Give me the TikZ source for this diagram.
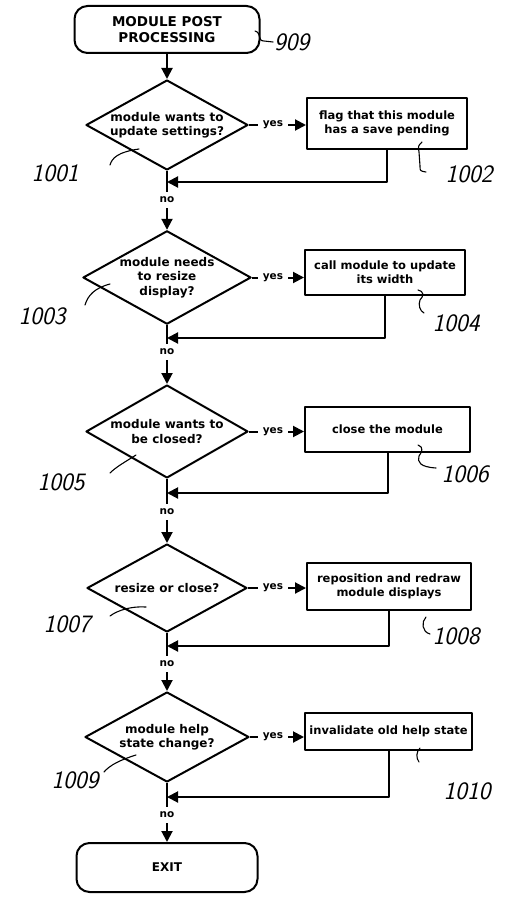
\documentclass[tikz,border=0pt]{standalone}
\usepackage{fontspec}
\newfontfamily\flowfont{DejaVu Sans}
\usetikzlibrary{shapes.geometric,arrows.meta}

\begin{document}
\begin{tikzpicture}[x=1pt,y=-1pt,line width=2pt,line join=round,
  base/.style={font=\flowfont\bfseries\fontsize{11.5}{14}\selectfont, align=center, inner sep=0pt},
  terminal/.style={base, draw, rounded corners=13pt, font=\flowfont\bfseries\fontsize{13.5}{16}\selectfont},
  decision/.style={base, draw, diamond, shape aspect=1.8, font=\flowfont\bfseries\fontsize{12}{14.5}\selectfont},
  process/.style={base, draw},
  tag/.style={font=\flowfont\bfseries\fontsize{10.5}{12}\selectfont, inner sep=4pt},
  flow/.style={-{Triangle[length=11pt,width=11pt]}},
  hand/.style={font=\sffamily\itshape\fontsize{25}{25}\selectfont, inner sep=0pt},
  lead/.style={line width=1.1pt, line cap=round}
]
\useasboundingbox (0,0) rectangle (506,899);

% terminals
\node[terminal, minimum width=185pt, minimum height=47pt] (start) at (167,29.5) {MODULE POST\\PROCESSING};
\node[terminal, minimum width=181pt, minimum height=49pt, font=\flowfont\bfseries\fontsize{12}{14}\selectfont] (exit) at (167,867.5) {EXIT};

% decisions
\node[decision, minimum width=162pt, minimum height=90pt] (d1) at (167,125) {module wants to\\update settings?};
\node[decision, minimum width=162pt, minimum height=92pt] (d2) at (167,277.5) {module needs\\to resize\\display?};
\node[decision, minimum width=162pt, minimum height=93pt] (d3) at (167,431.5) {module wants to\\be closed?};
\node[decision, minimum width=160pt, minimum height=88pt] (d4) at (167,588) {resize or close?};
\node[decision, minimum width=164pt, minimum height=90pt] (d5) at (167,737) {module help\\state change?};

% actions
\node[process, minimum width=160pt, minimum height=51pt] (b1) at (387,123.5) {flag that this module\\has a save pending};
\node[process, minimum width=160pt, minimum height=45pt] (b2) at (385,272.5) {call module to update\\its width};
\node[process, minimum width=165pt, minimum height=45pt] (b3) at (387.5,429.5) {close the module};
\node[process, minimum width=164pt, minimum height=47pt] (b4) at (389,586.5) {reposition and redraw\\module displays};
\node[process, minimum width=167pt, minimum height=37pt] (b5) at (388.5,731.5) {invalidate old help state};

% branch labels
\node[tag] (y1) at (273,125) {yes};
\node[tag] (y2) at (273,277.5) {yes};
\node[tag] (y3) at (273,431.5) {yes};
\node[tag] (y4) at (273,588) {yes};
\node[tag] (y5) at (273,737) {yes};
\node[tag] (no1) at (167,200) {no};
\node[tag] (no2) at (167,352) {no};
\node[tag] (no3) at (167,512) {no};
\node[tag] (no4) at (167,664) {no};
\node[tag] (no5) at (167,815) {no};

% merge points on the main line
\coordinate (j1) at (167,182);
\coordinate (j2) at (167,338);
\coordinate (j3) at (167,493);
\coordinate (j4) at (167,646);
\coordinate (j5) at (167,797);

% main line
\draw[flow] (start) -- (d1);
\draw (d1.south) -- (j1) -- (no1.north);
\draw[flow] (no1.south) -- (d2.north);
\draw (d2.south) -- (j2) -- (no2.north);
\draw[flow] (no2.south) -- (d3.north);
\draw (d3.south) -- (j3) -- (no3.north);
\draw[flow] (no3.south) -- (d4.north);
\draw (d4.south) -- (j4) -- (no4.north);
\draw[flow] (no4.south) -- (d5.north);
\draw (d5.south) -- (j5) -- (no5.north);
\draw[flow] (no5.south) -- (exit.north);

% yes branches and returns
\foreach \i in {1,...,5}{
  \draw (d\i.east) -- (y\i.west);
  \draw[flow] (y\i.east) -- (b\i.west |- y\i);
  \draw[flow] (b\i.south) |- (j\i);
}

% reference numerals
\node[hand, anchor=west] (n909) at (273,42) {909};
\node[hand] (n1001) at (55,173) {1001};
\node[hand] (n1002) at (469,174) {1002};
\node[hand] (n1003) at (42,316) {1003};
\node[hand] (n1004) at (456,323) {1004};
\node[hand] (n1005) at (61,482) {1005};
\node[hand] (n1006) at (465,474) {1006};
\node[hand] (n1007) at (67,624) {1007};
\node[hand] (n1008) at (456,636) {1008};
\node[hand] (n1009) at (75,780) {1009};
\node[hand] (n1010) at (467,791) {1010};

% leader lines
\coordinate (p909) at (255,31);
\draw[lead] (p909) .. controls (262,33) and (257,41) .. (264,41) -- (n909.west);
\coordinate (p1001) at (139,149);
\coordinate (q1001) at (110,165);
\draw[lead] (p1001) .. controls (118,152) and (112,158) .. (q1001);
\coordinate (p1002) at (422,142);
\coordinate (q1002) at (426,172);
\draw[lead] (p1002) .. controls (418,146) .. (419,152) -- (420,166) .. controls (420,171) .. (q1002);
\coordinate (p1003) at (110,284);
\coordinate (q1003) at (85,305);
\draw[lead] (p1003) .. controls (95,288) and (88,295) .. (q1003);
\coordinate (p1004) at (418,290);
\coordinate (q1004) at (424,313);
\draw[lead] (p1004) .. controls (424,291) and (424,296) .. (420,300) .. controls (418,305) and (420,311) .. (q1004);
\coordinate (p1005) at (136,455);
\coordinate (q1005) at (110,473);
\draw[lead] (p1005) .. controls (125,462) and (116,467) .. (q1005);
\coordinate (p1006) at (418,445);
\coordinate (q1006) at (436,468);
\draw[lead] (p1006) .. controls (424,447) and (422,452) .. (419,456) .. controls (417,462) and (420,467) .. (q1006);
\coordinate (p1007) at (146,607);
\coordinate (q1007) at (110,616);
\draw[lead] (p1007) .. controls (132,606) and (118,610) .. (q1007);
\coordinate (p1008) at (426,617);
\coordinate (q1008) at (430,634);
\draw[lead] (p1008) .. controls (421,622) and (422,632) .. (q1008);
\coordinate (p1009) at (136,755);
\coordinate (q1009) at (104,772);
\draw[lead] (p1009) .. controls (120,760) and (110,765) .. (q1009);
\coordinate (p1010) at (420,748);
\coordinate (q1010) at (419,762);
\draw[lead] (p1010) .. controls (416,752) and (416,758) .. (q1010);
\end{tikzpicture}
\end{document}
